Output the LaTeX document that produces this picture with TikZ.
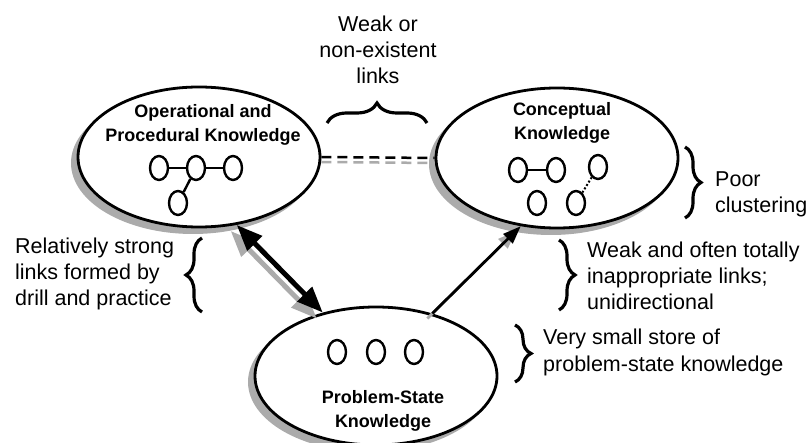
\documentclass[tikz,border=0pt]{standalone}
\usepackage{fontspec}
\setmainfont{Liberation Sans}
\usetikzlibrary{shapes.geometric, arrows.meta, decorations.pathreplacing}
\begin{document}
\begin{tikzpicture}[x=1pt, y=1pt,
  know/.style={ellipse, draw=black, line width=2.8pt, fill=white,
    minimum width=242pt, minimum height=140pt},
  title/.style={align=center, font=\fontsize{18}{24}\selectfont\bfseries},
  dot/.style={ellipse, draw=black, line width=2.4pt, minimum width=18pt,
    minimum height=24pt, inner sep=0pt},
  note/.style={align=left, font=\fontsize{21.5}{26}\selectfont, inner sep=0pt},
  bracket/.style={decorate, decoration={brace, amplitude=#1}, line width=3.2pt},
  grey/.style={black!33}]
\useasboundingbox (0,0) rectangle (811,-443);

% shadows of the three stores
\fill [grey] (193,-163) ellipse [x radius=122, y radius=71];
\fill [grey] (551,-164) ellipse [x radius=122, y radius=71];
\fill [grey] (370,-382) ellipse [x radius=122, y radius=70];

% the three stores of knowledge
\node [know] (opk) at (199,-157) {};
\node [know] (ck) at (557,-158) {};
\node [know, minimum height=138pt] (psk) at (376,-376) {};

\node [title, anchor=base] (opkt) at (203,-142) {Operational and\\Procedural Knowledge};
\node [title, anchor=base] (ckt) at (562,-140) {Conceptual\\Knowledge};
\node [title, anchor=base] (pskt) at (383,-427) {Problem-State\\Knowledge};

% operational: one cluster
\node [dot] (o1) at (159,-168) {};
\node [dot] (o2) at (196,-168) {};
\node [dot] (o3) at (233,-168) {};
\node [dot] (o4) at (178,-203) {};
\draw [line width=2.4pt] (o1) -- (o2) -- (o3);
\draw [line width=2.4pt] (o2) -- (o4);

% conceptual: poor clustering
\node [dot] (c1) at (518,-170) {};
\node [dot] (c2) at (556,-170) {};
\node [dot] (c3) at (598,-167) {};
\node [dot] (c4) at (537,-203) {};
\node [dot] (c5) at (576,-203) {};
\draw [line width=2.4pt] (c1) -- (c2);
\draw [line width=2pt, dotted] (c5) -- (c3);

% problem-state: small store
\node [dot] (p1) at (337,-352) {};
\node [dot] (p2) at (376,-352) {};
\node [dot] (p3) at (414,-352) {};

% links between the stores
\draw [grey, line width=2.5pt, dash pattern=on 10pt off 6pt] ([yshift=-5pt]opk.east) -- ([yshift=-5pt]ck.west);
\draw [line width=2.5pt, dash pattern=on 10pt off 6pt] (opk.east) -- (ck.west);
\draw [grey, line width=5pt, {Triangle[length=26pt,width=20pt]}-{Triangle[length=26pt,width=20pt]}] ([shift={(-6,-6)}]opk.-61) -- ([shift={(-6,-6)}]psk.130);
\draw [line width=5pt, {Triangle[length=26pt,width=20pt]}-{Triangle[length=26pt,width=20pt]}] (opk.-61) -- (psk.130);
\draw [grey, line width=2.8pt, -{Triangle[length=18pt,width=13pt]}] ([shift={(-5,-5)}]psk.48) -- ([shift={(-5,-5)}]ck.-118);
\draw [line width=2.8pt, -{Triangle[length=18pt,width=13pt]}] (psk.48) -- (ck.-118);

% braces and notes
\draw [bracket=20pt] (327,-123) -- (427,-123);
\node [note, align=center, anchor=base] (weak) at (378,-84) {Weak or\\non-existent\\links};
\draw [bracket=16pt] (685,-147) -- (685,-218);
\node [note, anchor=base west] (poor) at (715,-213) {Poor\\clustering};
\draw [bracket=16pt] (559,-240) -- (559,-310);
\node [note, anchor=base west] (inapp) at (587,-310) {Weak and often totally\\inappropriate links;\\unidirectional};
\draw [bracket=16pt] (202,-312) -- (202,-238);
\node [note, anchor=base west] (strong) at (15,-306) {Relatively strong\\links formed by\\drill and practice};
\draw [bracket=16pt] (515,-325) -- (515,-382);
\node [note, anchor=base west] (store) at (543,-371) {Very small store of\\problem-state knowledge};
\end{tikzpicture}
\end{document}
